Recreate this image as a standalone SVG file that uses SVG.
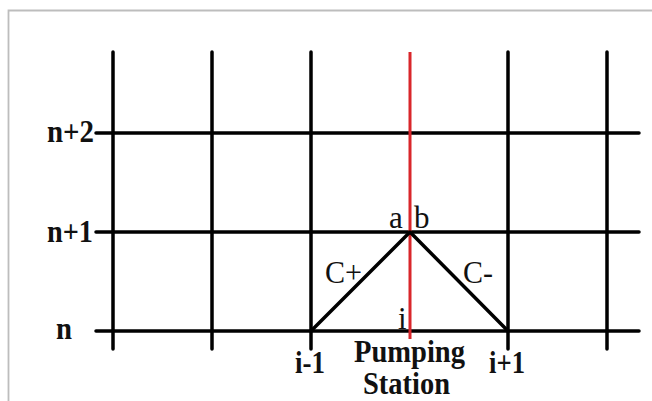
<svg xmlns="http://www.w3.org/2000/svg" width="652" height="401" viewBox="0 0 652 401">
<style>
.g{stroke:#000;stroke-width:3.5;stroke-linecap:round;fill:none}
.r{stroke:#d9262b;stroke-width:3;fill:none}
.b{font-family:"Liberation Serif","Times New Roman",serif;font-weight:bold;font-size:31px;fill:#111}
.n{font-family:"Liberation Serif","Times New Roman",serif;font-size:31px;fill:#111}
</style>
<rect width="652" height="401" fill="#fff"/>
<path d="M8.5 401V10.5H652" stroke="#bdbdbd" stroke-width="1.8" fill="none"/>
<g id="grid">
<path class="g" d="M113 52V349M212 52V349M311 52V349M508 52V349M607 52V349"/>
<path class="g" d="M96 133H639M96 232H639M96 331H639"/>
</g>
<g id="pumping-line">
<path class="r" d="M410 52V339"/>
</g>
<g id="characteristics">
<path class="g" stroke-linejoin="round" d="M311 331L410 232L508 331"/>
</g>
<g id="labels">
<text class="b" x="47" y="142" textLength="47" lengthAdjust="spacingAndGlyphs">n+2</text>
<text class="b" x="47" y="242" textLength="46" lengthAdjust="spacingAndGlyphs">n+1</text>
<text class="b" x="56" y="339" textLength="16" lengthAdjust="spacingAndGlyphs">n</text>
<text class="n" x="389" y="228" font-size="28">a</text>
<text class="n" x="414" y="228" font-size="28">b</text>
<text class="n" x="325" y="283" textLength="37" lengthAdjust="spacingAndGlyphs">C+</text>
<text class="n" x="463" y="283" textLength="30" lengthAdjust="spacingAndGlyphs">C-</text>
<text class="n" x="398" y="329" font-size="29">i</text>
<text class="b" x="295" y="373" textLength="30" lengthAdjust="spacingAndGlyphs">i-1</text>
<text class="b" x="489" y="373" textLength="36" lengthAdjust="spacingAndGlyphs">i+1</text>
<text class="b" x="354" y="362" textLength="111" lengthAdjust="spacingAndGlyphs">Pumping</text>
<text class="b" x="363" y="394" textLength="87" lengthAdjust="spacingAndGlyphs">Station</text>
</g>
</svg>
